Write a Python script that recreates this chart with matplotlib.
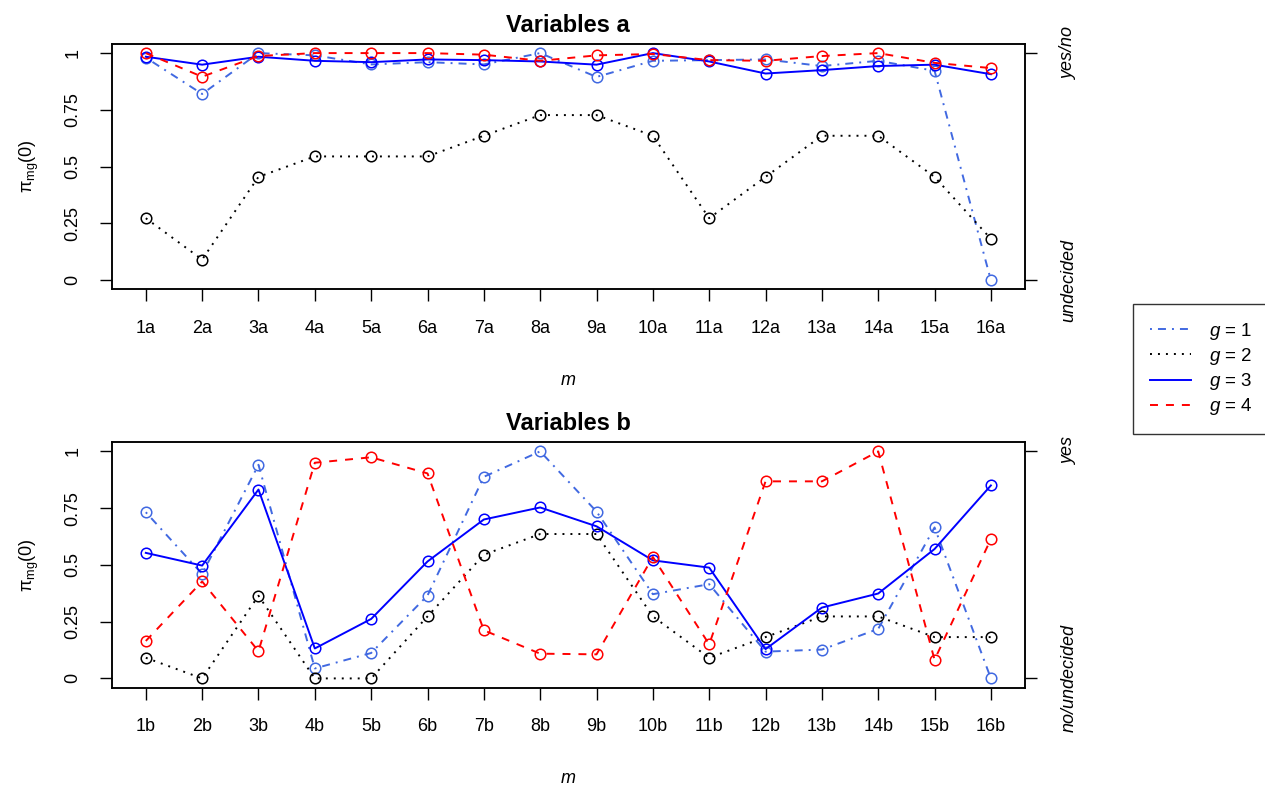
import matplotlib
matplotlib.use("Agg")
import matplotlib.pyplot as plt
from matplotlib.lines import Line2D

plt.rcParams["font.family"] = "Liberation Sans"
plt.rcParams["mathtext.fontset"] = "custom"
plt.rcParams["mathtext.rm"] = "Liberation Sans"
plt.rcParams["mathtext.it"] = "Liberation Sans:italic"

# categories
m_a = ["1a", "2a", "3a", "4a", "5a", "6a", "7a", "8a",
       "9a", "10a", "11a", "12a", "13a", "14a", "15a", "16a"]
m_b = ["1b", "2b", "3b", "4b", "5b", "6b", "7b", "8b",
       "9b", "10b", "11b", "12b", "13b", "14b", "15b", "16b"]

# pi_mg(0) per group, variables a
g1_a = [0.98, 0.82, 1.00, 0.99, 0.95, 0.96, 0.95, 1.00, 0.895, 0.966, 0.969, 0.972, 0.943, 0.966, 0.922, 0.00]
g2_a = [0.273, 0.091, 0.455, 0.545, 0.545, 0.545, 0.636, 0.727, 0.727, 0.636, 0.273, 0.455, 0.636, 0.636, 0.455, 0.182]
g3_a = [0.984, 0.949, 0.984, 0.966, 0.960, 0.972, 0.969, 0.963, 0.949, 1.00, 0.963, 0.910, 0.925, 0.943, 0.949, 0.907]
g4_a = [1.00, 0.896, 0.987, 1.00, 1.00, 1.00, 0.993, 0.966, 0.990, 0.996, 0.969, 0.966, 0.987, 1.00, 0.957, 0.934]

# pi_mg(0) per group, variables b
g1_b = [0.732, 0.46, 0.941, 0.044, 0.112, 0.365, 0.888, 1.00, 0.735, 0.371, 0.415, 0.118, 0.127, 0.218, 0.665, 0.00]
g2_b = [0.091, 0.0, 0.364, 0.0, 0.0, 0.273, 0.545, 0.636, 0.636, 0.273, 0.091, 0.182, 0.273, 0.273, 0.182, 0.182]
g3_b = [0.553, 0.497, 0.832, 0.132, 0.262, 0.515, 0.700, 0.753, 0.670, 0.52, 0.488, 0.129, 0.312, 0.374, 0.570, 0.850]
g4_b = [0.165, 0.427, 0.120, 0.950, 0.974, 0.903, 0.212, 0.109, 0.106, 0.535, 0.150, 0.868, 0.868, 1.00, 0.082, 0.614]

y_ticks = [0, 0.25, 0.5, 0.75, 1]
y_ticklabels = ["0", "0.25", "0.5", "0.75", "1"]
groups = ["$g$ = 1", "$g$ = 2", "$g$ = 3", "$g$ = 4"]

lw = 1.4
styles = [
    dict(color="royalblue", dashes=(1, 3.1, 4.1, 3.1)),
    dict(color="black", dashes=(1, 3.1)),
    dict(color="blue", linestyle="-"),
    dict(color="red", dashes=(4.1, 4.1)),
]

W, H = 1265, 789
fig = plt.figure(figsize=(W / 100, H / 100), dpi=100)
ax1 = fig.add_axes([112 / W, 1 - 289.3 / H, 912.7 / W, 245.3 / H])
ax2 = fig.add_axes([112 / W, 1 - 687.5 / H, 912.7 / W, 245.2 / H])


def panel(ax, cats, series, title, right_labels):
    x = list(range(1, len(cats) + 1))
    for vals, st in zip(series, styles):
        ax.plot(x, vals, lw=lw, marker="o", ms=7.6, mfc="none", mew=1.1,
                mec=st["color"], **st)
    ax.set_xlim(0.4, 16.6)
    ax.set_ylim(-0.04, 1.04)
    ax.set_xticks(x, cats)
    ax.set_yticks(y_ticks, y_ticklabels, rotation=90, va="center")
    ax.tick_params(length=8.6, width=1.0, pad=13.5, labelsize=13)
    for sp in ax.spines.values():
        sp.set_linewidth(1.1)
    ax.set_title(title, fontsize=17, fontweight="bold", pad=9)
    ax.set_xlabel("m", fontsize=13, style="italic", labelpad=25)
    ax.set_ylabel(r"$\mathrm{\pi_{mg}(0)}$", fontsize=13, labelpad=17)

    axr = ax.twinx()
    axr.set_ylim(-0.04, 1.04)
    axr.set_yticks([0, 1], right_labels, rotation=90, va="center",
                   style="italic")
    axr.tick_params(length=8.6, width=1.0, pad=17, labelsize=13)
    for sp in axr.spines.values():
        sp.set_linewidth(1.1)


panel(ax1, m_a, [g1_a, g2_a, g3_a, g4_a], "Variables a", ["undecided", "yes/no"])
panel(ax2, m_b, [g1_b, g2_b, g3_b, g4_b], "Variables b", ["no/undecided", "yes"])

handles = [Line2D([], [], lw=lw, **st) for st in styles]
leg = fig.legend(handles, groups, loc="upper left",
                 bbox_to_anchor=(1133 / W, 1 - 304 / H), fontsize=13.5,
                 frameon=True, fancybox=False, edgecolor="black",
                 borderaxespad=0, borderpad=0.9, handlelength=2.2,
                 handletextpad=0.95, labelspacing=0.22)
leg.get_frame().set_linewidth(1.0)

fig.savefig("out.png", dpi=100)
